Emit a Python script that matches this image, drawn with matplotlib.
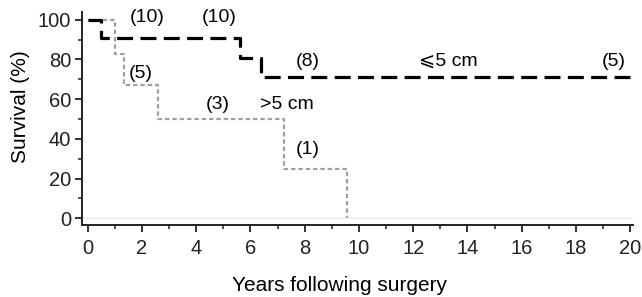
import matplotlib
matplotlib.use("Agg")
import matplotlib.pyplot as plt
from matplotlib.ticker import MultipleLocator

plt.rcParams["font.family"] = ["Liberation Sans", "DejaVu Sans"]

# Kaplan-Meier steps
t_small = [0, 0.5, 5.6, 6.4, 20.0]
s_small = [100, 91, 81, 71, 71]
t_large = [0, 1.0, 1.35, 2.6, 7.25, 9.55]
s_large = [100, 83, 67, 50, 25, 0]

# at-risk / group labels: (x, y, text), y is the text centre
lab_x = [2.2, 4.85, 1.95, 8.1, 4.8, 7.35, 8.1, 13.3, 19.4]
lab_y = [101.3, 101.3, 72.8, 79, 57.2, 57.2, 34.5, 79, 79]
lab_txt = ["(10)", "(10)", "(5)", "(8)", "(3)", ">5 cm", "(1)", "⩽5 cm", "(5)"]

fig = plt.figure(figsize=(6.42, 2.97), dpi=100)
ax = fig.add_axes([0.128, 0.242, 0.858, 0.718])

ax.axhline(0, color="0.93", lw=1.2, zorder=0)
ax.step(t_large, s_large, where="post", color="#a0a0a0", lw=1.6,
        dashes=(2.0, 1.3))
ax.step(t_small, s_small, where="post", color="black", lw=2.3,
        dashes=(5.0, 2.3))

for x, y, s in zip(lab_x, lab_y, lab_txt):
    ax.text(x, y, s, ha="center", va="center", fontsize=14)

ax.set_xlim(-0.2, 20.1)
ax.set_ylim(-3.5, 104)
ax.xaxis.set_major_locator(MultipleLocator(2))
ax.xaxis.set_minor_locator(MultipleLocator(1))
ax.yaxis.set_major_locator(MultipleLocator(20))
ax.yaxis.set_minor_locator(MultipleLocator(10))
ax.tick_params(which="major", length=5, width=1.3, labelsize=14.5,
               colors="#222222", pad=3)
ax.tick_params(axis="x", which="major", pad=5)
ax.tick_params(which="minor", length=3, width=1.1, colors="#222222")
for side in ("top", "right"):
    ax.spines[side].set_visible(False)
for side in ("left", "bottom"):
    ax.spines[side].set_linewidth(1.4)
    ax.spines[side].set_color("#222222")

ax.set_xlabel("Years following surgery", fontsize=15, va="center")
ax.xaxis.set_label_coords(0.468, -0.282)
ax.set_ylabel("Survival (%)", fontsize=15, va="center")
ax.yaxis.set_label_coords(-0.1125, 0.556)

fig.savefig("out.png", dpi=100)
